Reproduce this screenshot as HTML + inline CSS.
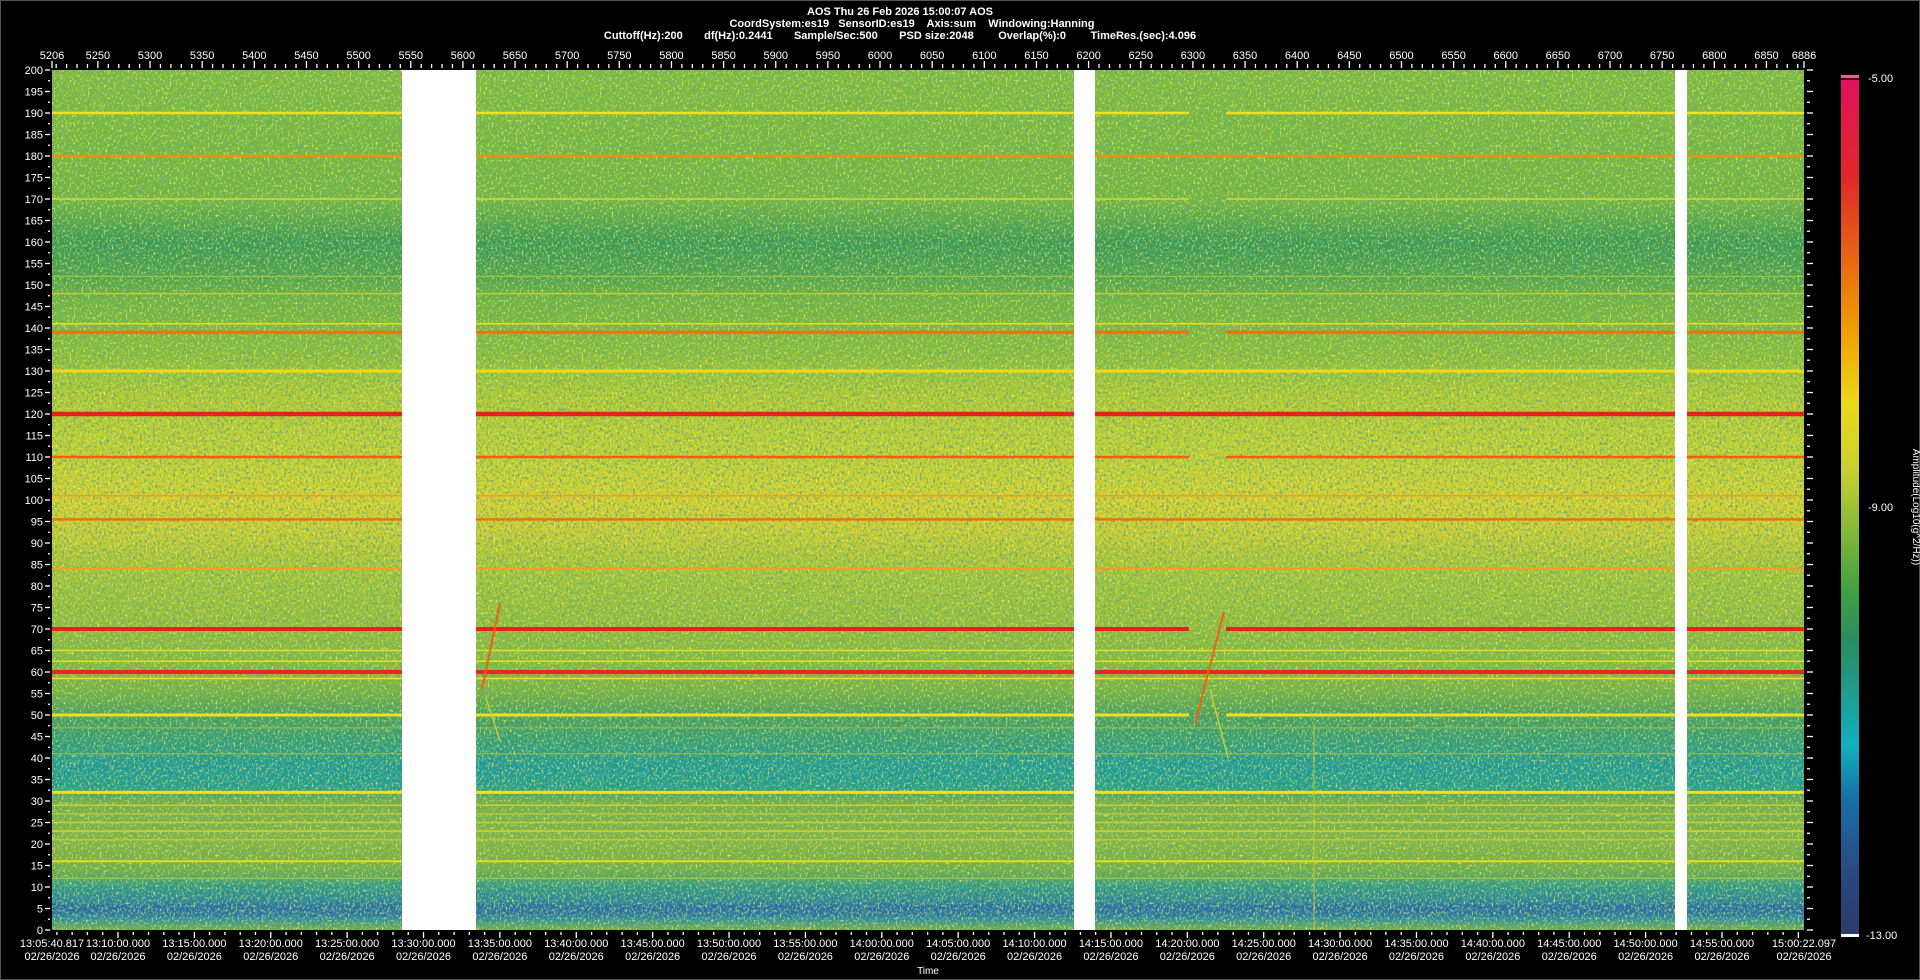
<!DOCTYPE html>
<html><head><meta charset="utf-8"><style>
html,body{margin:0;padding:0;background:#000;width:1920px;height:980px;overflow:hidden}
svg{display:block}
text{font-family:"Liberation Sans",sans-serif;fill:#fff}
</style></head><body>
<svg id="s" width="1920" height="980" xmlns="http://www.w3.org/2000/svg">
<defs>
<linearGradient id="bg" x1="0" y1="0" x2="0" y2="1">
<stop offset="0" stop-color="#82bb3c"/>
<stop offset="0.15" stop-color="#76b63e"/>
<stop offset="0.2" stop-color="#3a9852"/>
<stop offset="0.24" stop-color="#50a34a"/>
<stop offset="0.27" stop-color="#74b43e"/>
<stop offset="0.33" stop-color="#8cbe38"/>
<stop offset="0.38" stop-color="#b4ca30"/>
<stop offset="0.45" stop-color="#c2cf30"/>
<stop offset="0.5" stop-color="#d8d02c"/>
<stop offset="0.53" stop-color="#d0cc2e"/>
<stop offset="0.58" stop-color="#a8c436"/>
<stop offset="0.65" stop-color="#94be3a"/>
<stop offset="0.72" stop-color="#7cb440"/>
<stop offset="0.75" stop-color="#4a9e5a"/>
<stop offset="0.78" stop-color="#329e7a"/>
<stop offset="0.81" stop-color="#1a9a9c"/>
<stop offset="0.835" stop-color="#209e90"/>
<stop offset="0.85" stop-color="#74ae48"/>
<stop offset="0.9" stop-color="#88b640"/>
<stop offset="0.93" stop-color="#76ae44"/>
<stop offset="0.95" stop-color="#2b988c"/>
<stop offset="0.975" stop-color="#2876a8"/>
<stop offset="0.988" stop-color="#2e8ea0"/>
<stop offset="1" stop-color="#7cae40"/>
</linearGradient>
<linearGradient id="cb" x1="0" y1="0" x2="0" y2="1">
<stop offset="0" stop-color="#e01060"/>
<stop offset="0.12" stop-color="#e02828"/>
<stop offset="0.3" stop-color="#f0a000"/>
<stop offset="0.38" stop-color="#ecd818"/>
<stop offset="0.46" stop-color="#c8d030"/>
<stop offset="0.6" stop-color="#40a040"/>
<stop offset="0.66" stop-color="#2a8c64"/>
<stop offset="0.78" stop-color="#10b0c0"/>
<stop offset="0.84" stop-color="#1870a8"/>
<stop offset="0.93" stop-color="#284880"/>
<stop offset="1" stop-color="#2c3c6c"/>
</linearGradient>
<filter id="nz" x="0" y="0" width="100%" height="100%">
<feTurbulence type="fractalNoise" baseFrequency="0.45 0.35" numOctaves="1" seed="3"/>
<feColorMatrix type="matrix" values="0 0 0 0 0.12  0 0 0 0 0.42  0 0 0 0 0.22  3.4 0 0 0 -1.6"/>
</filter>
<filter id="nz2" x="0" y="0" width="100%" height="100%">
<feTurbulence type="fractalNoise" baseFrequency="0.5 0.4" numOctaves="1" seed="9"/>
<feColorMatrix type="matrix" values="0 0 0 0 0.95  0 0 0 0 0.9  0 0 0 0 0.1  3 0 0 0 -1.6"/>
</filter>
</defs>
<g id="g"></g>
</svg>
<script>
const g=document.getElementById('g');let h='';
const L=52,R=1804,T=70,B=930;
const Y=f=>B-f*4.3;
h+=`<rect x="0" y="0" width="1920" height="980" fill="#000"/>`;
h+=`<rect x="0.5" y="0.5" width="1919" height="979" fill="none" stroke="#555" stroke-width="1"/>`;
h+=`<rect x="${L}" y="${T}" width="${R-L}" height="${B-T}" fill="url(#bg)"/>`;
h+=`<rect x="${L}" y="${Y(6)}" width="${R-L}" height="${4.3*3}" fill="#1f5cb0" opacity="0.35"/>`;
h+=`<rect x="${L}" y="${T}" width="${R-L}" height="${B-T}" filter="url(#nz)"/>`;
h+=`<rect x="${L}" y="${T}" width="${R-L}" height="${B-T}" filter="url(#nz2)"/>`;
const lines=[[190,'#f0e020',2.5,1],[180,'#f09010',2.5,0],[170,'#d8d830',1.5,1],[152,'#a8c840',1,0],[148,'#c0d030',1.5,0],[141,'#e8e020',1.5,0],[139,'#f07010',3,1],[130,'#f0d818',3,0],[120,'#e82020',4.5,0],[110,'#f06010',2.5,1],[101,'#f0a020',1.5,0],[95.5,'#f07010',2.5,0],[84,'#f0a020',2,0],[70,'#e82020',4,1],[65,'#e0e020',1.5,0],[62.5,'#e0e020',1.5,0],[60,'#e82828',4,0],[58.5,'#f0e020',1.5,0],[50,'#f0e020',3,1],[47,'#a0c040',1,0],[41,'#a0c040',1,0],[32,'#f0e020',3,0],[29,'#c8d030',1.5,0],[27,'#b8c838',1.5,0],[25,'#c8d030',1.5,0],[23,'#c8d030',2,0],[21,'#b8c838',1.5,0],[16,'#e0e020',2,0],[12,'#a0c040',1.5,0]];
for(const [f,c,w,br] of lines){
 const y=Y(f);
 if(br){
  h+=`<line x1="${L}" x2="1189" y1="${y}" y2="${y}" stroke="${c}" stroke-width="${w}"/>`;
  h+=`<line x1="1226" x2="${R}" y1="${y}" y2="${y}" stroke="${c}" stroke-width="${w}"/>`;
 } else h+=`<line x1="${L}" x2="${R}" y1="${y}" y2="${y}" stroke="${c}" stroke-width="${w}"/>`;
}
h+=`<line x1="1224" y1="${Y(74)}" x2="1195" y2="${Y(48)}" stroke="#f06010" stroke-width="2"/>`;
h+=`<line x1="1210" y1="${Y(56)}" x2="1228" y2="${Y(40)}" stroke="#c8d030" stroke-width="1.5"/>`;
h+=`<line x1="500" y1="${Y(76)}" x2="482" y2="${Y(56)}" stroke="#f06010" stroke-width="2"/>`;
h+=`<line x1="486" y1="${Y(54)}" x2="500" y2="${Y(44)}" stroke="#c8d030" stroke-width="1.5"/>`;
h+=`<line x1="1314" y1="${Y(48)}" x2="1314" y2="${B}" stroke="#d0d030" stroke-width="1.5" opacity="0.6"/>`;
for(const [a,b] of [[402,476],[1074,1095],[1675,1687]]) h+=`<rect x="${a}" y="${T}" width="${b-a}" height="${B-T}" fill="#fff"/>`;
for(let f=0;f<=200;f+=2.5){const y=Y(f);const maj=f%5==0;
 h+=`<line x1="${L-(maj?7:4)}" x2="${L-2}" y1="${y}" y2="${y}" stroke="#fff" stroke-width="1.3"/>`;
 h+=`<line x1="${R+3}" x2="${R+(maj?9:6)}" y1="${y}" y2="${y}" stroke="#fff" stroke-width="1.3"/>`;
 if(maj) h+=`<text x="${L-9}" y="${y+4}" font-size="11" text-anchor="end">${f}</text>`;}
const px=(R-L)/1680;
for(let v=5210;v<=6880;v+=10){const x=L+(v-5206)*px;const maj=v%50==0;
 h+=`<line x1="${x}" x2="${x}" y1="${maj?61:64}" y2="68" stroke="#fff" stroke-width="1.3"/>`;
 if(maj) h+=`<text x="${x}" y="59" font-size="11" text-anchor="middle">${v}</text>`;}
h+=`<line x1="${L}" x2="${L}" y1="61" y2="68" stroke="#fff" stroke-width="1.3"/><text x="${L}" y="59" font-size="11" text-anchor="middle">5206</text>`;
h+=`<line x1="${R}" x2="${R}" y1="61" y2="68" stroke="#fff" stroke-width="1.3"/><text x="${R}" y="59" font-size="11" text-anchor="middle">6886</text>`;
const t0=13*3600+5*60+40.817, pps=(R-L)/6881.28;
for(let m=13*60+6;m<=15*60;m++){const x=L+(m*60-t0)*pps;const maj=m%5==0;
 h+=`<line x1="${x}" x2="${x}" y1="${B+2}" y2="${B+(maj?8:5)}" stroke="#fff" stroke-width="1.3"/>`;
 if(maj && m<15*60){const hh=Math.floor(m/60),mm=m%60;
  h+=`<text x="${x}" y="${B+17}" font-size="11" text-anchor="middle">${hh}:${String(mm).padStart(2,'0')}:00.000</text><text x="${x}" y="${B+30}" font-size="11" text-anchor="middle">02/26/2026</text>`;}}
h+=`<text x="${L}" y="${B+17}" font-size="11" text-anchor="middle">13:05:40.817</text><text x="${L}" y="${B+30}" font-size="11" text-anchor="middle">02/26/2026</text>`;
h+=`<text x="${R}" y="${B+17}" font-size="11" text-anchor="middle">15:00:22.097</text><text x="${R}" y="${B+30}" font-size="11" text-anchor="middle">02/26/2026</text>`;
h+=`<text x="928" y="974" font-size="10" text-anchor="middle">Time</text>`;
h+=`<text x="900" y="15" font-size="11" font-weight="bold" text-anchor="middle">AOS  Thu 26 Feb 2026 15:00:07  AOS</text>`;
h+=`<text x="912" y="27" font-size="11" font-weight="bold" text-anchor="middle" xml:space="preserve">CoordSystem:es19   SensorID:es19    Axis:sum    Windowing:Hanning</text>`;
h+=`<text x="900" y="39" font-size="11" font-weight="bold" text-anchor="middle" xml:space="preserve">Cuttoff(Hz):200       df(Hz):0.2441       Sample/Sec:500       PSD size:2048        Overlap(%):0        TimeRes.(sec):4.096</text>`;
h+=`<rect x="1841" y="75" width="18" height="860" fill="url(#cb)"/>`;
h+=`<rect x="1841" y="75" width="18" height="3" fill="#e86090"/><rect x="1841" y="78" width="18" height="2" fill="#400010"/>`;
h+=`<rect x="1841" y="934" width="18" height="3" fill="#fff"/>`;
h+=`<text x="1868" y="82" font-size="11">-5.00</text><text x="1868" y="511" font-size="11">-9.00</text><text x="1866" y="939" font-size="11">-13.00</text>`;
h+=`<text transform="translate(1913,507) rotate(90)" font-size="10" text-anchor="middle">Amplitude(Log10(g^2/Hz))</text>`;
g.innerHTML=h;
</script>
</body></html>
